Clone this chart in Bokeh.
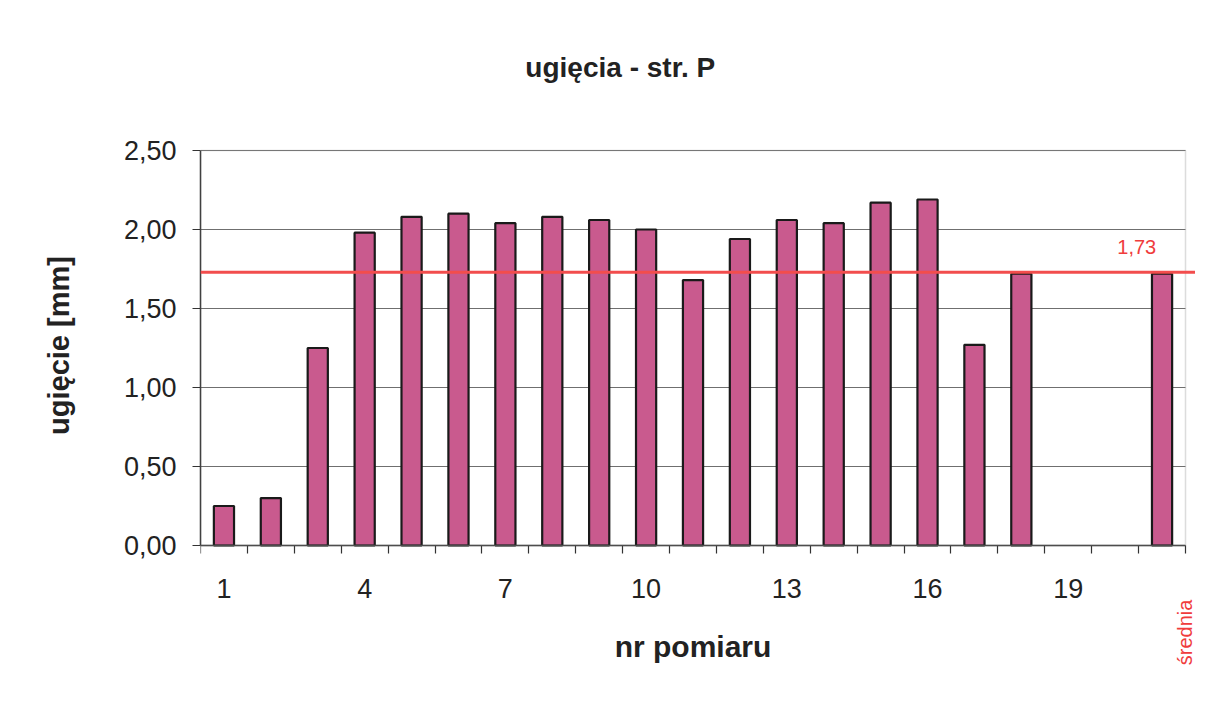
from bokeh.plotting import figure
from bokeh.models import ColumnDataSource, FixedTicker, CustomJSTickFormatter, Span, Label, BoxAnnotation
from bokeh.embed import file_html
from bokeh.resources import INLINE

categories = [str(i) for i in range(1, 21)] + ["średnia"]
values = [0.25, 0.30, 1.25, 1.98, 2.08, 2.10, 2.04, 2.08, 2.06, 2.00,
          1.68, 1.94, 2.06, 2.04, 2.17, 2.19, 1.27, 1.72, None, None, 1.72]
mean_value = 1.73
label_ticks = [1, 4, 7, 10, 13, 16, 19]
y_ticks = [0.0, 0.5, 1.0, 1.5, 2.0, 2.5]
title_text = "ugięcia - str. P"

xs = [i + 1 for i, v in enumerate(values) if v is not None]
tops = [v for v in values if v is not None]
src = ColumnDataSource(dict(x=xs, top=tops))

n = len(categories)
W, H = 1195, 690
left, right = 200, 1185
zero_px, top_px = 545, 150
ppu = (zero_px - top_px) / 2.5
y_top = zero_px / ppu
y_bot = -(H - zero_px) / ppu
cat_px = (right - left) / n
x_end = n + 0.5 + (W - right) / cat_px

p = figure(width=W, height=H, output_backend="svg", toolbar_location=None,
           x_range=(0.5, x_end), y_range=(y_bot, y_top),
           min_border_left=left, min_border_right=0, min_border_top=0, min_border_bottom=0)
p.background_fill_color = "white"
p.border_fill_color = "white"
p.outline_line_color = None

p.vbar(x="x", top="top", width=0.43, source=src, fill_color="#c95a8e",
       line_color="#1a1a1a", line_width=2.2)

# plot-area border
p.add_layout(BoxAnnotation(left=0.5, right=n + 0.5, bottom=0, top=2.5, fill_alpha=0,
                           line_color="#8a8a8a", line_width=1.5))

p.add_layout(Span(location=mean_value, dimension="width", line_color="#f24d4d", line_width=3))

# grid
p.xgrid.visible = False
yg = p.ygrid[0]
yg.grid_line_color = "#6f6f6f"
yg.grid_line_width = 1.2
yg.ticker = FixedTicker(ticks=y_ticks)
if "cross_bounds" in yg.properties():
    yg.cross_bounds = (0.5, n + 0.5)

# y axis
p.yaxis.bounds = (0, 2.5)
p.yaxis.ticker = FixedTicker(ticks=y_ticks)
p.yaxis.formatter = CustomJSTickFormatter(code="return tick.toFixed(2).replace('.', ',');")
p.yaxis.major_label_text_font = "Liberation Sans"
p.yaxis.major_label_text_font_size = "27px"
p.yaxis.major_label_text_color = "#222222"
p.yaxis.major_tick_out = 8
p.yaxis.major_tick_in = 0
p.yaxis.minor_tick_line_color = None
p.yaxis.axis_line_color = "#333333"
p.yaxis.axis_line_width = 1.5
p.yaxis.major_tick_line_color = "#333333"
p.yaxis.major_label_standoff = 16
p.yaxis.axis_label = "ugięcie [mm]"
p.yaxis.axis_label_text_font = "Liberation Sans"
p.yaxis.axis_label_text_font_style = "bold"
p.yaxis.axis_label_text_font_size = "29px"
p.yaxis.axis_label_text_color = "#222222"
p.yaxis.axis_label_standoff = 46

# x axis, fixed at y = 0 so texts below it stay inside the frame
boundaries = [i + 0.5 for i in range(n + 1)]
p.xaxis.fixed_location = 0
p.xaxis.bounds = (0.5, n + 0.5)
p.xaxis.ticker = FixedTicker(ticks=label_ticks, minor_ticks=boundaries)
p.xaxis.major_tick_out = 0
p.xaxis.major_tick_in = 0
p.xaxis.minor_tick_out = 8
p.xaxis.minor_tick_in = 0
p.xaxis.minor_tick_line_color = "#333333"
p.xaxis.minor_tick_line_width = 1.2
p.xaxis.axis_line_color = "#333333"
p.xaxis.axis_line_width = 1.5
p.xaxis.major_label_text_font = "Liberation Sans"
p.xaxis.major_label_text_font_size = "27px"
p.xaxis.major_label_text_color = "#222222"
p.xaxis.major_label_standoff = 25
p.xaxis.axis_label = "nr pomiaru"
p.xaxis.axis_label_text_font = "Liberation Sans"
p.xaxis.axis_label_text_font_style = "bold"
p.xaxis.axis_label_text_font_size = "30px"
p.xaxis.axis_label_text_color = "#222222"
p.xaxis.axis_label_standoff = 29

# title
p.add_layout(Label(x=9.45, y=3.025, text=title_text, text_align="center",
                   text_baseline="middle", text_font="Liberation Sans",
                   text_font_style="bold", text_font_size="28px", text_color="#222222"))
# mean value label
p.add_layout(Label(x=20.46, y=1.89, text=f"{mean_value:.2f}".replace(".", ","), text_align="center",
                   text_baseline="middle", text_font="Liberation Sans",
                   text_font_size="20px", text_color="#f03c3c"))
# średnia category label (vertical, reading bottom to top)
p.add_layout(Label(x=21.48, y=-0.55, text=categories[-1], angle=1.5708,
                   text_align="center", text_baseline="middle", text_font="Liberation Sans",
                   text_font_size="20px", text_color="#f03c3c"))

open("out.html", "w").write(file_html(p, INLINE))
